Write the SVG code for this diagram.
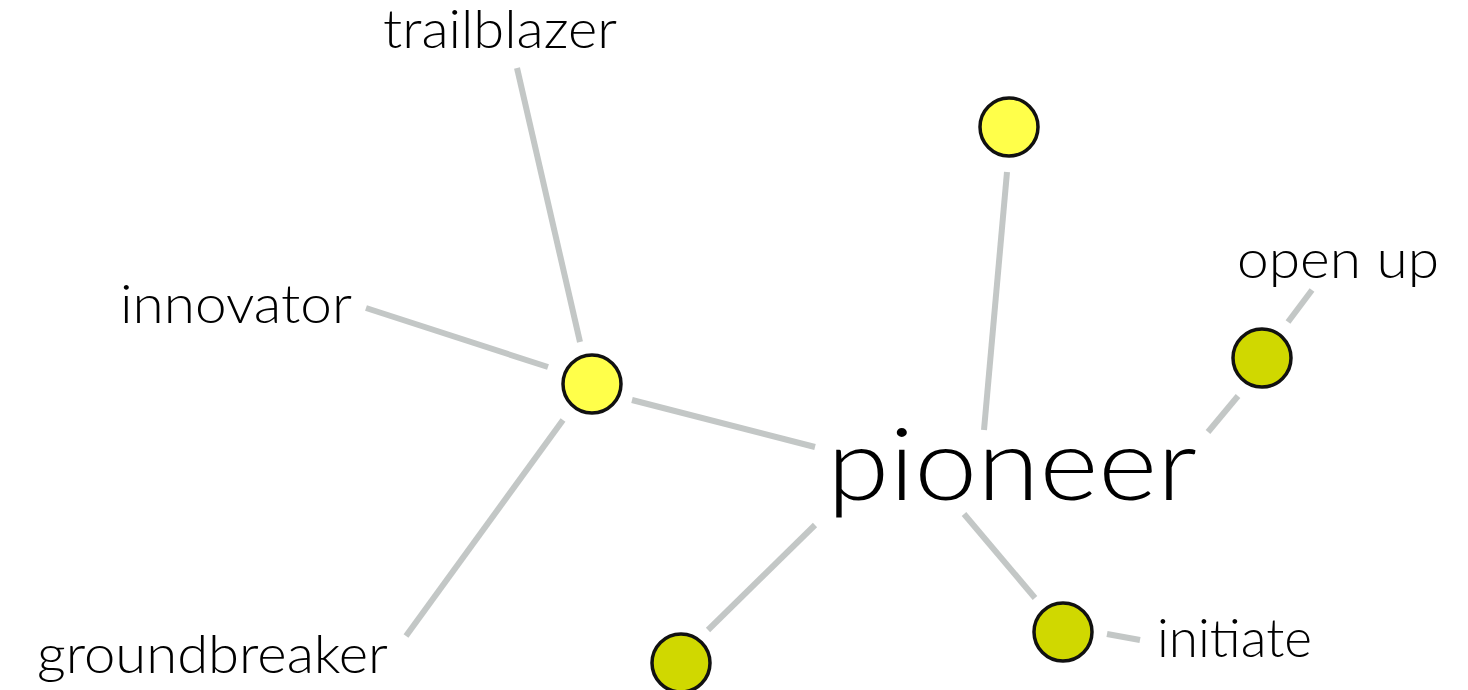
<svg xmlns="http://www.w3.org/2000/svg" width="1468" height="690" viewBox="0 0 1468 690">
<style>
.edge{stroke:#c3c7c6;stroke-width:6;fill:none}
.n1{fill:#ffff4a;stroke:#111;stroke-width:3.5}
.n2{fill:#d0d800;stroke:#111;stroke-width:3.5}
text{font-family:Lato,"Liberation Sans",Arial,sans-serif;font-weight:300;fill:#000}
.lbl{font-size:54px}
.main{font-size:100px}
</style>
<rect width="1468" height="690" fill="#fff"/>
<g id="connectors">
<line class="edge" x1="517" y1="68" x2="580" y2="342"/>
<line class="edge" x1="366" y1="308" x2="548" y2="367"/>
<line class="edge" x1="563" y1="420" x2="406" y2="636"/>
<line class="edge" x1="632" y1="400" x2="815" y2="447"/>
<line class="edge" x1="1007" y1="172" x2="984" y2="430"/>
<line class="edge" x1="1288" y1="322" x2="1312" y2="290"/>
<line class="edge" x1="1238" y1="396" x2="1208" y2="432"/>
<line class="edge" x1="708" y1="630" x2="815" y2="525"/>
<line class="edge" x1="964" y1="514" x2="1035" y2="598"/>
<line class="edge" x1="1107" y1="634" x2="1140" y2="640"/>
</g>
<g id="node-hub"><circle class="n1" cx="592" cy="384" r="29"/></g>
<g id="node-top"><circle class="n1" cx="1009" cy="127" r="29"/></g>
<g id="node-openup-dot"><circle class="n2" cx="1262" cy="358" r="29"/></g>
<g id="node-bottom"><circle class="n2" cx="681" cy="663" r="29"/></g>
<g id="node-initiate-dot"><circle class="n2" cx="1063" cy="632" r="29"/></g>
<g id="node-pioneer"><text class="main" x="827" y="500" textLength="370" lengthAdjust="spacingAndGlyphs">pioneer</text></g>
<g id="node-trailblazer"><text class="lbl" x="383" y="48" textLength="234" lengthAdjust="spacingAndGlyphs">trailblazer</text></g>
<g id="node-innovator"><text class="lbl" x="120" y="323" textLength="232" lengthAdjust="spacingAndGlyphs">innovator</text></g>
<g id="node-groundbreaker"><text class="lbl" x="37" y="673" textLength="351" lengthAdjust="spacingAndGlyphs">groundbreaker</text></g>
<g id="node-openup"><text class="lbl" x="1237" y="278" textLength="202" lengthAdjust="spacingAndGlyphs">open up</text></g>
<g id="node-initiate"><text class="lbl" x="1157" y="657" textLength="155" lengthAdjust="spacingAndGlyphs">initiate</text></g>
</svg>
